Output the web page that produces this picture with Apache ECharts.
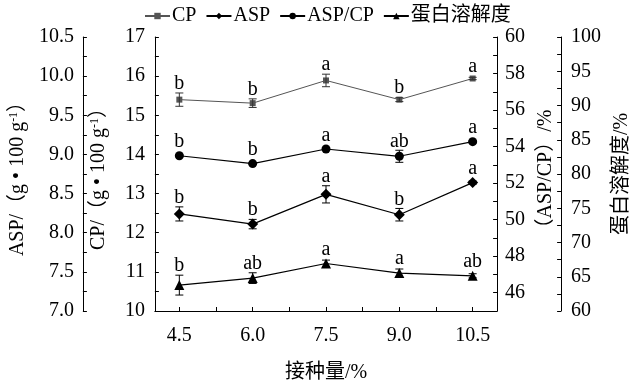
<!DOCTYPE html>
<html>
<head>
<meta charset="utf-8">
<script src="https://cdn.jsdelivr.net/npm/echarts@6/dist/echarts.min.js"></script>
<style>html,body{margin:0;padding:0;background:#fff;}#c{width:640px;height:388px;}</style>
</head>
<body>
<div id="c"></div>
<script>
const inoculum = [4.5, 6.0, 7.5, 9.0, 10.5];
const cpValues = [15.40, 15.31, 15.89, 15.40, 15.94];
const cpErr = [0.17, 0.11, 0.16, 0.05, 0.03];
const cpLetters = ['b', 'b', 'a', 'b', 'a'];
const aspValues = [8.24, 8.11, 8.49, 8.23, 8.64];
const aspErr = [0.09, 0.06, 0.11, 0.08, 0.02];
const aspLetters = ['b', 'b', 'a', 'b', 'a'];
const ratioValues = [53.50, 53.07, 53.87, 53.47, 54.27];
const ratioErr = [0.05, 0.05, 0.08, 0.33, 0.05];
const ratioLetters = ['b', 'b', 'a', 'ab', 'a'];
const solValues = [63.78, 64.80, 66.93, 65.53, 65.14];
const solErr = [1.45, 0.78, 0.50, 0.60, 0.30];
const solLetters = ['b', 'ab', 'a', 'a', 'ab'];
const seriesNames = ['CP', 'ASP', 'ASP/CP', '蛋白溶解度'];
const xTickLabels = [4.5, 6.0, 7.5, 9.0, 10.5];
const xMinorTicks = [4.5, 5.25, 6.0, 6.75, 7.5, 8.25, 9.0, 9.75, 10.5];

const FONT = 'Liberation Serif, "Noto Sans CJK SC", serif';
const chart = echarts.init(document.getElementById('c'));

function pairs(vals) { return inoculum.map((x, i) => [x, vals[i]]); }
function errData(vals, errs) { return inoculum.map((x, i) => [x, vals[i], errs[i]]); }

function errSeries(yIdx, vals, errs, letters, color, r) {
  return {
    type: 'custom',
    name: 'err' + yIdx,
    yAxisIndex: yIdx,
    z: 5,
    silent: true,
    data: errData(vals, errs),
    renderItem: function (params, api) {
      const x = api.value(0), v = api.value(1), e = api.value(2);
      const p = api.coord([x, v]);
      const hi = api.coord([x, v + e]);
      const lo = api.coord([x, v - e]);
      const cw = 4;
      const top = Math.min(hi[1], p[1] - r);
      const st = { stroke: color, lineWidth: 1 };
      return {
        type: 'group',
        children: [
          { type: 'line', shape: { x1: p[0], y1: hi[1], x2: p[0], y2: lo[1] }, style: st },
          { type: 'line', shape: { x1: p[0] - cw, y1: hi[1], x2: p[0] + cw, y2: hi[1] }, style: st },
          { type: 'line', shape: { x1: p[0] - cw, y1: lo[1], x2: p[0] + cw, y2: lo[1] }, style: st },
          { type: 'text', style: { text: letters[params.dataIndex], x: p[0], y: top + 1,
              align: 'center', verticalAlign: 'bottom', fontSize: 20, fontFamily: FONT, fill: '#000' } }
        ]
      };
    }
  };
}

const axisLineStyle = { show: true, lineStyle: { color: '#000', width: 1 } };
const nameStyle = {
  fontSize: 20, fontFamily: FONT, color: '#000',
  rich: { sup: { fontSize: 12, fontFamily: FONT, color: '#000', verticalAlign: 'top' } }
};
const labelStyle = { fontSize: 20, fontFamily: FONT, color: '#000' };

const option = {
  animation: false,
  backgroundColor: '#fff',
  legend: {
    data: seriesNames,
    left: 139, top: 1,
    itemWidth: 25, itemHeight: 8, itemGap: 9,
    textStyle: { fontSize: 20, fontFamily: FONT, color: '#000', padding: [0, 0, 0, -3] }
  },
  grid: { left: 152, right: 133, top: 37, bottom: 76, containLabel: false },
  xAxis: {
    type: 'value', min: 4, max: 11,
    name: '接种量/%', nameLocation: 'middle', nameGap: 52,
    nameTextStyle: { fontSize: 20, fontFamily: FONT, color: '#000' },
    axisLine: axisLineStyle,
    axisTick: { show: true, inside: true, length: 4, customValues: xMinorTicks, lineStyle: { color: '#000' } },
    axisLabel: Object.assign({ margin: 15, customValues: xTickLabels, formatter: v => v.toFixed(1) }, labelStyle),
    splitLine: { show: false }
  },
  yAxis: [
    {
      type: 'value', position: 'left', offset: 0, min: 10, max: 17, interval: 1,
      name: 'CP/（g • 100 g{sup|-1}）', nameLocation: 'middle', nameGap: 46, nameTextStyle: nameStyle,
      axisLine: axisLineStyle,
      axisTick: { show: true, inside: true, length: 4, lineStyle: { color: '#000' } },
      minorTick: { show: true, splitNumber: 2, length: 4, lineStyle: { color: '#000' } },
      axisLabel: Object.assign({ margin: 10 }, labelStyle),
      splitLine: { show: false }
    },
    {
      type: 'value', position: 'left', offset: 72, min: 7, max: 10.5, interval: 0.5,
      name: 'ASP/（g • 100 g{sup|-1}）', nameLocation: 'middle', nameGap: 50, nameTextStyle: nameStyle,
      axisLine: axisLineStyle,
      axisTick: { show: true, inside: true, length: 4, lineStyle: { color: '#000' } },
      minorTick: { show: true, splitNumber: 2, length: 4, lineStyle: { color: '#000' } },
      axisLabel: Object.assign({ margin: 9, formatter: v => v.toFixed(1) }, labelStyle),
      splitLine: { show: false }
    },
    {
      type: 'value', position: 'right', offset: 0, min: 45, max: 60, interval: 1,
      name: '（ASP/CP）/%', nameLocation: 'middle', nameGap: 33, nameTextStyle: nameStyle,
      axisLine: axisLineStyle,
      axisTick: { show: true, inside: true, length: 4, lineStyle: { color: '#000' } },
      axisLabel: Object.assign({ margin: 8, formatter: v => (v % 2 === 0 ? String(v) : '') }, labelStyle),
      splitLine: { show: false }
    },
    {
      type: 'value', position: 'right', offset: 64, min: 60, max: 100, interval: 5,
      name: '蛋白溶解度/%', nameLocation: 'middle', nameGap: 41, nameTextStyle: nameStyle,
      axisLine: axisLineStyle,
      axisTick: { show: true, inside: true, length: 4, lineStyle: { color: '#000' } },
      minorTick: { show: true, splitNumber: 2, length: 4, lineStyle: { color: '#000' } },
      axisLabel: Object.assign({ margin: 10 }, labelStyle),
      splitLine: { show: false }
    }
  ],
  series: [
    { name: 'CP', type: 'line', yAxisIndex: 0, data: pairs(cpValues), symbol: 'rect', symbolSize: 6,
      itemStyle: { color: '#555' }, lineStyle: { color: '#555', width: 1 }, z: 3 },
    { name: 'ASP', type: 'line', yAxisIndex: 1, data: pairs(aspValues), symbol: 'diamond', symbolSize: 11,
      itemStyle: { color: '#000' }, lineStyle: { color: '#000', width: 1.2 }, z: 3 },
    { name: 'ASP/CP', type: 'line', yAxisIndex: 2, data: pairs(ratioValues), symbol: 'circle', symbolSize: 9,
      itemStyle: { color: '#000' }, lineStyle: { color: '#000', width: 1.2 }, z: 3 },
    { name: '蛋白溶解度', type: 'line', yAxisIndex: 3, data: pairs(solValues), symbol: 'triangle', symbolSize: 10,
      itemStyle: { color: '#000' }, lineStyle: { color: '#000', width: 1.2 }, z: 3 },
    errSeries(0, cpValues, cpErr, cpLetters, '#333', 3),
    errSeries(1, aspValues, aspErr, aspLetters, '#000', 5),
    errSeries(2, ratioValues, ratioErr, ratioLetters, '#000', 4.5),
    errSeries(3, solValues, solErr, solLetters, '#000', 5)
  ]
};
chart.setOption(option);
</script>
</body>
</html>
